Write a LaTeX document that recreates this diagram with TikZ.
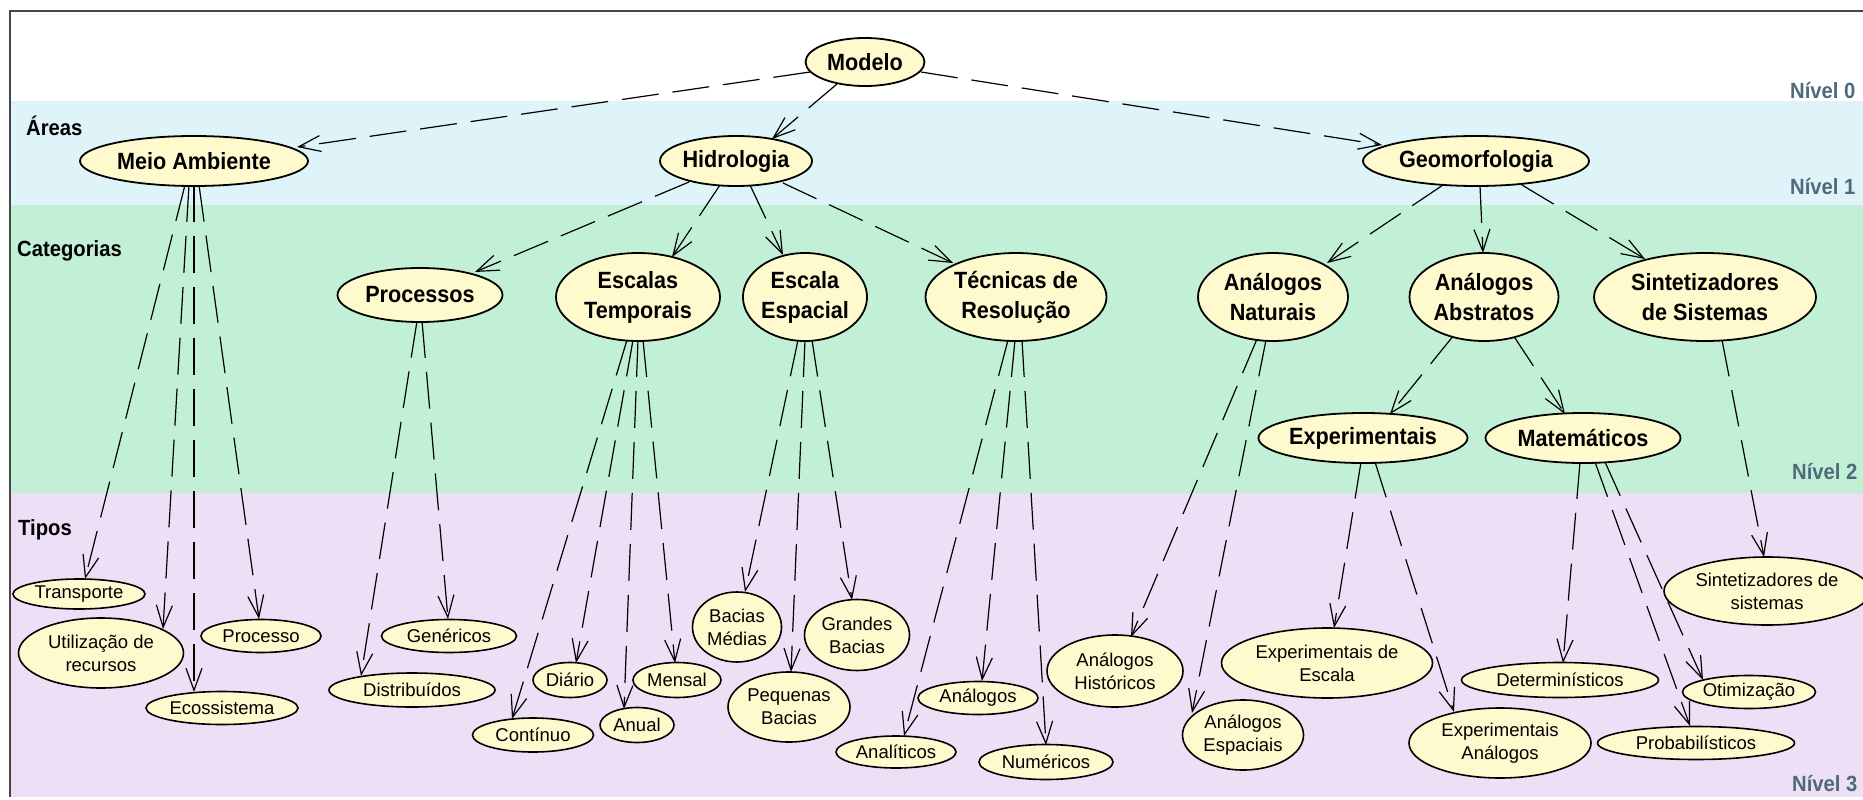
\documentclass[tikz,border=0pt]{standalone}
\usepackage{fontspec}
\setmainfont{Liberation Sans}
\newfontfamily\hfont{Liberation Sans}[FakeStretch=0.92]
\newfontfamily\tfont{Liberation Sans}
\usetikzlibrary{arrows.meta,shapes.geometric}
\pgfdeclarelayer{bands}
\pgfdeclarelayer{edges}
\pgfsetlayers{bands,edges,main}

\definecolor{ellfill}{RGB}{255,250,205}
\definecolor{blueband}{RGB}{223,244,248}
\definecolor{greenband}{RGB}{194,240,214}
\definecolor{pinkband}{RGB}{237,223,246}
\definecolor{nivcol}{RGB}{78,106,124}
\definecolor{framecol}{RGB}{70,70,70}

\tikzset{
  big/.style={ellipse, draw=black, line width=1.8pt, fill=ellfill, align=center,
    inner sep=0pt, font=\hfont\bfseries\fontsize{23.5}{30}\selectfont},
  small/.style={ellipse, draw=black, line width=1.6pt, fill=ellfill, align=center,
    inner sep=0pt, font=\tfont\fontsize{18.5}{23}\selectfont},
  lab/.style={inner sep=0pt, anchor=west, font=\hfont\bfseries\fontsize{22}{26}\selectfont},
  niv/.style={inner sep=0pt, anchor=west, text=nivcol, font=\hfont\bfseries\fontsize{22}{26}\selectfont},
  dep/.style={line width=1.2pt, dash pattern=on 37pt off 14pt,
    -{Straight Barb[length=22pt,width=16pt,line width=1.2pt]}},
  sz/.style 2 args={minimum width=#1pt, minimum height=#2pt}
}

\begin{document}
\begin{tikzpicture}[x=1pt,y=-1pt]
\useasboundingbox (0,0) rectangle (1863,800);
\clip (0,0) rectangle (1863,800);

% bands of the four levels
\begin{pgfonlayer}{bands}
  \fill[white] (0,0) rectangle (1863,800);
  \fill[blueband] (11,101) rectangle (1863,205);
  \fill[greenband] (11,205) rectangle (1863,493);
  \fill[pinkband] (11,493) rectangle (1863,797);
  \draw[framecol, line width=2.5pt] (10,797) -- (10,11) -- (1863,11);
\end{pgfonlayer}

% side titles
\node[lab] (areas) at (26,126) {Áreas};
\node[lab] (categ) at (17,251) {Categorias};
\node[lab] (tipos) at (18,530) {Tipos};
\node[niv] (n0) at (1790,91) {Nível 0};
\node[niv] (n1) at (1790,187) {Nível 1};
\node[niv] (n2) at (1792,472) {Nível 2};
\node[niv] (n3) at (1792,784) {Nível 3};

% level 0 and 1
\node[big, sz={119}{48}] (mod) at (865,62) {Modelo};
\node[big, sz={228}{50}] (ma) at (194,161) {Meio Ambiente};
\node[big, sz={152}{50}] (hid) at (736,161) {Hidrologia};
\node[big, sz={226}{50}] (geo) at (1476,161) {Geomorfologia};

% level 2
\node[big, sz={165}{54}] (proc) at (420,295) {Processos};
\node[big, sz={164}{88}] (et) at (638,297) {Escalas\\Temporais};
\node[big, sz={122}{88}] (ee) at (805,297) {Escala\\Espacial};
\node[big, sz={181}{88}] (tr) at (1016,297) {Técnicas de\\Resolução};
\node[big, sz={150}{88}] (an) at (1273,297) {Análogos\\Naturais};
\node[big, sz={149}{88}] (aa) at (1484,297) {Análogos\\Abstratos};
\node[big, sz={222}{88}] (ss) at (1705,297) {Sintetizadores\\de Sistemas};
\node[big, sz={209}{50}] (exp) at (1363,438) {Experimentais};
\node[big, sz={195}{50}] (mat) at (1583,438) {Matemáticos};

% level 3
\node[small, sz={132}{30}] (tp) at (79,594) {Transporte};
\node[small, sz={165}{70}] (ur) at (101,653) {Utilização de\\recursos};
\node[small, sz={120}{33}] (pr) at (261,636) {Processo};
\node[small, sz={152}{33}] (eco) at (222,708) {Ecossistema};
\node[small, sz={135}{33}] (gen) at (449,636) {Genéricos};
\node[small, sz={166}{34}] (dist) at (412,690) {Distribuídos};
\node[small, sz={74}{35}] (dia) at (570,680) {Diário};
\node[small, sz={121}{34}] (cont) at (533,735) {Contínuo};
\node[small, sz={74}{35}] (anu) at (637,725) {Anual};
\node[small, sz={88}{35}] (men) at (677,680) {Mensal};
\node[small, sz={89}{70}] (bm) at (737,627) {Bacias\\Médias};
\node[small, sz={122}{70}] (pb) at (789,707) {Pequenas\\Bacias};
\node[small, sz={105}{71}] (gb) at (857,635) {Grandes\\Bacias};
\node[small, sz={120}{32}] (anl) at (896,752) {Analíticos};
\node[small, sz={120}{33}] (ang) at (978,698) {Análogos};
\node[small, sz={134}{35}] (num) at (1046,762) {Numéricos};
\node[small, sz={136}{72}] (ah) at (1115,671) {Análogos\\Históricos};
\node[small, sz={121}{70}] (aes) at (1243,735) {Análogos\\Espaciais};
\node[small, sz={211}{70}] (ede) at (1327,663) {Experimentais de\\Escala};
\node[small, sz={182}{70}] (ean) at (1500,743) {Experimentais\\Análogos};
\node[small, sz={197}{35}] (det) at (1560,680) {Determinísticos};
\node[small, sz={133}{33}] (oti) at (1749,692) {Otimização};
\node[small, sz={197}{33}] (prob) at (1696,743) {Probabilísticos};
\node[small, sz={206}{68}] (sin) at (1767,591) {Sintetizadores de\\sistemas};

% dependencies
\begin{pgfonlayer}{edges}
  \draw[dep] ([shift={(-55,10)}]mod.center) -- ([shift={(103,-14)}]ma.center);
  \draw[dep] ([shift={(-28,22)}]mod.center) -- ([shift={(36,-22)}]hid.center);
  \draw[dep] ([shift={(56,10)}]mod.center) -- ([shift={(-94,-16)}]geo.center);

  \draw[dep] ([shift={(-47,21)}]hid.center) -- ([shift={(55,-23)}]proc.center);
  \draw[dep] ([shift={(-16,24)}]hid.center) -- ([shift={(34,-40)}]et.center);
  \draw[dep] ([shift={(14,24)}]hid.center) -- ([shift={(-22,-42)}]ee.center);
  \draw[dep] ([shift={(47,22)}]hid.center) -- ([shift={(-63,-34)}]tr.center);

  \draw[dep] ([shift={(-33,24)}]geo.center) -- ([shift={(54,-34)}]an.center);
  \draw[dep] ([shift={(4,25)}]geo.center) -- ([shift={(-1,-44)}]aa.center);
  \draw[dep] ([shift={(46,24)}]geo.center) -- ([shift={(-60,-38)}]ss.center);

  \draw[dep] ([shift={(-30,38)}]aa.center) -- ([shift={(27,-24)}]exp.center);
  \draw[dep] ([shift={(29,38)}]aa.center) -- ([shift={(-18,-24)}]mat.center);

  \draw[dep] ([shift={(-9,24)}]ma.center) -- ([shift={(6,-15)}]tp.center);
  \draw[dep] ([shift={(-5,24)}]ma.center) -- ([shift={(62,-24)}]ur.center);
  \draw[dep] ([shift={(0,24)}]ma.center) -- ([shift={(-28,-16)}]eco.center);
  \draw[dep] ([shift={(5,24)}]ma.center) -- ([shift={(-2,-17)}]pr.center);

  \draw[dep] ([shift={(-3,26)}]proc.center) -- ([shift={(-51,-14)}]dist.center);
  \draw[dep] ([shift={(2,26)}]proc.center) -- ([shift={(-1,-17)}]gen.center);

  \draw[dep] ([shift={(-11,43)}]et.center) -- ([shift={(-21,-16)}]cont.center);
  \draw[dep] ([shift={(-5,43)}]et.center) -- ([shift={(6,-17)}]dia.center);
  \draw[dep] ([shift={(0,43)}]et.center) -- ([shift={(-13,-16)}]anu.center);
  \draw[dep] ([shift={(5,43)}]et.center) -- ([shift={(-2,-17)}]men.center);

  \draw[dep] ([shift={(-7,43)}]ee.center) -- ([shift={(8,-35)}]bm.center);
  \draw[dep] ([shift={(0,43)}]ee.center) -- ([shift={(2,-35)}]pb.center);
  \draw[dep] ([shift={(7,43)}]ee.center) -- ([shift={(-5,-35)}]gb.center);

  \draw[dep] ([shift={(-8,43)}]tr.center) -- ([shift={(8,-16)}]anl.center);
  \draw[dep] ([shift={(-1,43)}]tr.center) -- ([shift={(4,-17)}]ang.center);
  \draw[dep] ([shift={(6,43)}]tr.center) -- ([shift={(0,-17)}]num.center);

  \draw[dep] ([shift={(-16,42)}]an.center) -- ([shift={(16,-34)}]ah.center);
  \draw[dep] ([shift={(-7,43)}]an.center) -- ([shift={(-51,-22)}]aes.center);

  \draw[dep] ([shift={(-2,24)}]exp.center) -- ([shift={(7,-35)}]ede.center);
  \draw[dep] ([shift={(12,24)}]exp.center) -- ([shift={(-46,-31)}]ean.center);

  \draw[dep] ([shift={(-3,24)}]mat.center) -- ([shift={(3,-17)}]det.center);
  \draw[dep] ([shift={(12,24)}]mat.center) -- ([shift={(-6,-17)}]prob.center);
  \draw[dep] ([shift={(22,24)}]mat.center) -- ([shift={(-46,-12)}]oti.center);

  \draw[dep] ([shift={(17,43)}]ss.center) -- ([shift={(-3,-34)}]sin.center);
\end{pgfonlayer}
\end{tikzpicture}
\end{document}
